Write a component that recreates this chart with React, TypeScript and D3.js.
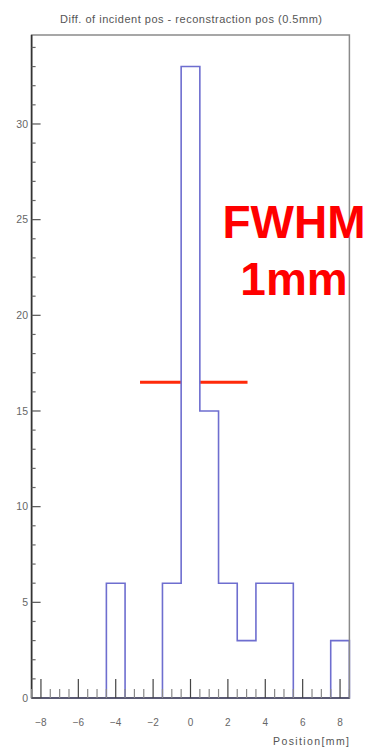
import React from "react";
import * as d3 from "d3";

// Histogram: difference of incident and reconstructed position, 1 mm bins
const binCenters = [-8, -7, -6, -5, -4, -3, -2, -1, 0, 1, 2, 3, 4, 5, 6, 7, 8];
const counts = [0, 0, 0, 0, 6, 0, 0, 6, 33, 15, 6, 3, 6, 6, 0, 0, 3];
const binWidth = 1;
const xTickValues = [-8, -6, -4, -2, 0, 2, 4, 6, 8];
const yTickValues = [0, 5, 10, 15, 20, 25, 30];
const fwhmRange = [-2.7, 3.05];
const title = "Diff. of incident pos - reconstraction pos (0.5mm)";
const xTitle = "Position[mm]";
const noteLines = ["FWHM", "1mm"];

const W = 372;
const H = 750;
const frame = { left: 31.6, right: 349.4, top: 35, bottom: 698 };

export default function App() {
  const x = d3.scaleLinear().domain([-8.5, 8.5]).range([frame.left, frame.right]);
  const yMax = d3.max(counts)! * 1.05;
  const y = d3.scaleLinear().domain([0, yMax]).range([frame.bottom, frame.top]);

  // outline vertices of the step histogram
  const pts: [number, number][] = [[x(binCenters[0] - binWidth / 2), y(0)]];
  binCenters.forEach((c, i) => {
    pts.push([x(c - binWidth / 2), y(counts[i])]);
    pts.push([x(c + binWidth / 2), y(counts[i])]);
  });
  pts.push([x(binCenters[binCenters.length - 1] + binWidth / 2), y(0)]);
  const histPath = d3.line()(pts) + "Z";

  const xMinor = d3.range(-8.5, 8.51, 0.5).filter((v) => Math.abs(v % 2) > 1e-6);
  const yMinor = d3.range(0, Math.floor(yMax) + 1, 1).filter((v) => v % 5 !== 0);
  const half = d3.max(counts)! / 2;

  // half-maximum marker, interrupted where bins rise above it
  const above = binCenters
    .map((c, i) => ({ lo: c - binWidth / 2, hi: c + binWidth / 2, v: counts[i] }))
    .filter((b) => b.v > half);
  const segments: [number, number][] = [];
  let start = fwhmRange[0];
  above.forEach((b) => {
    if (b.lo > start) segments.push([start, b.lo]);
    start = Math.max(start, b.hi);
  });
  if (start < fwhmRange[1]) segments.push([start, fwhmRange[1]]);

  return (
    <svg
      width={W}
      height={H}
      style={{ position: "absolute", left: 0, top: 0, background: "#fff" }}
      fontFamily="'Liberation Sans', Arial, sans-serif"
    >
      <rect x={0} y={0} width={W} height={H} fill="#fff" />
      <text
        x={191}
        y={23}
        textAnchor="middle"
        fontSize={11}
        fill="#555"
        textLength={262}
        lengthAdjust="spacing"
      >
        {title}
      </text>

      {/* FWHM marker at half maximum */}
      {segments.map(([a, b]) => (
        <line
          key={"seg" + a}
          x1={x(a)}
          x2={x(b)}
          y1={y(half)}
          y2={y(half)}
          stroke="#ff2a0a"
          strokeWidth={3}
        />
      ))}

      <path d={histPath} fill="none" stroke="#6e6ecf" strokeWidth={1.6} />

      {/* frame */}
      <rect
        x={frame.left}
        y={frame.top}
        width={frame.right - frame.left}
        height={frame.bottom - frame.top}
        fill="none"
        stroke="#8a8a8a"
        strokeWidth={1.5}
      />
      <line x1={frame.left} x2={frame.left} y1={frame.top} y2={frame.bottom} stroke="#333" strokeWidth={1.6} />
      <line x1={frame.left} x2={frame.right} y1={frame.bottom} y2={frame.bottom} stroke="#4a4a66" strokeWidth={1.6} />

      {/* x axis ticks */}
      {xMinor.map((v) => (
        <line key={"xm" + v} x1={x(v)} x2={x(v)} y1={frame.bottom} y2={frame.bottom - 9} stroke="#888" strokeWidth={1.2} />
      ))}
      {xTickValues.map((v) => (
        <g key={"xt" + v}>
          <line x1={x(v)} x2={x(v)} y1={frame.bottom} y2={frame.bottom - 19} stroke="#444" strokeWidth={1.2} />
          <text x={x(v)} y={726} textAnchor="middle" fontSize={10} fill="#666">
            {v < 0 ? "\u2212" + Math.abs(v) : v}
          </text>
        </g>
      ))}
      <text x={349} y={745} textAnchor="end" fontSize={10.5} fill="#555" textLength={76} lengthAdjust="spacing">
        {xTitle}
      </text>

      {/* y axis ticks */}
      {yMinor.map((v) => (
        <line key={"ym" + v} x1={frame.left} x2={frame.left + 4} y1={y(v)} y2={y(v)} stroke="#666" strokeWidth={1.2} />
      ))}
      {yTickValues.map((v) => (
        <g key={"yt" + v}>
          <line x1={frame.left} x2={frame.left + 9} y1={y(v)} y2={y(v)} stroke="#555" strokeWidth={1.2} />
          <text x={28} y={y(v) + 3.8} textAnchor="end" fontSize={10.5} fill="#666">
            {v}
          </text>
        </g>
      ))}

      {/* annotation */}
      {noteLines.map((t, i) => (
        <text
          key={t}
          x={294}
          y={238 + i * 57}
          textAnchor="middle"
          fontSize={46}
          fontWeight="bold"
          fill="#ff0000"
        >
          {t}
        </text>
      ))}
    </svg>
  );
}
